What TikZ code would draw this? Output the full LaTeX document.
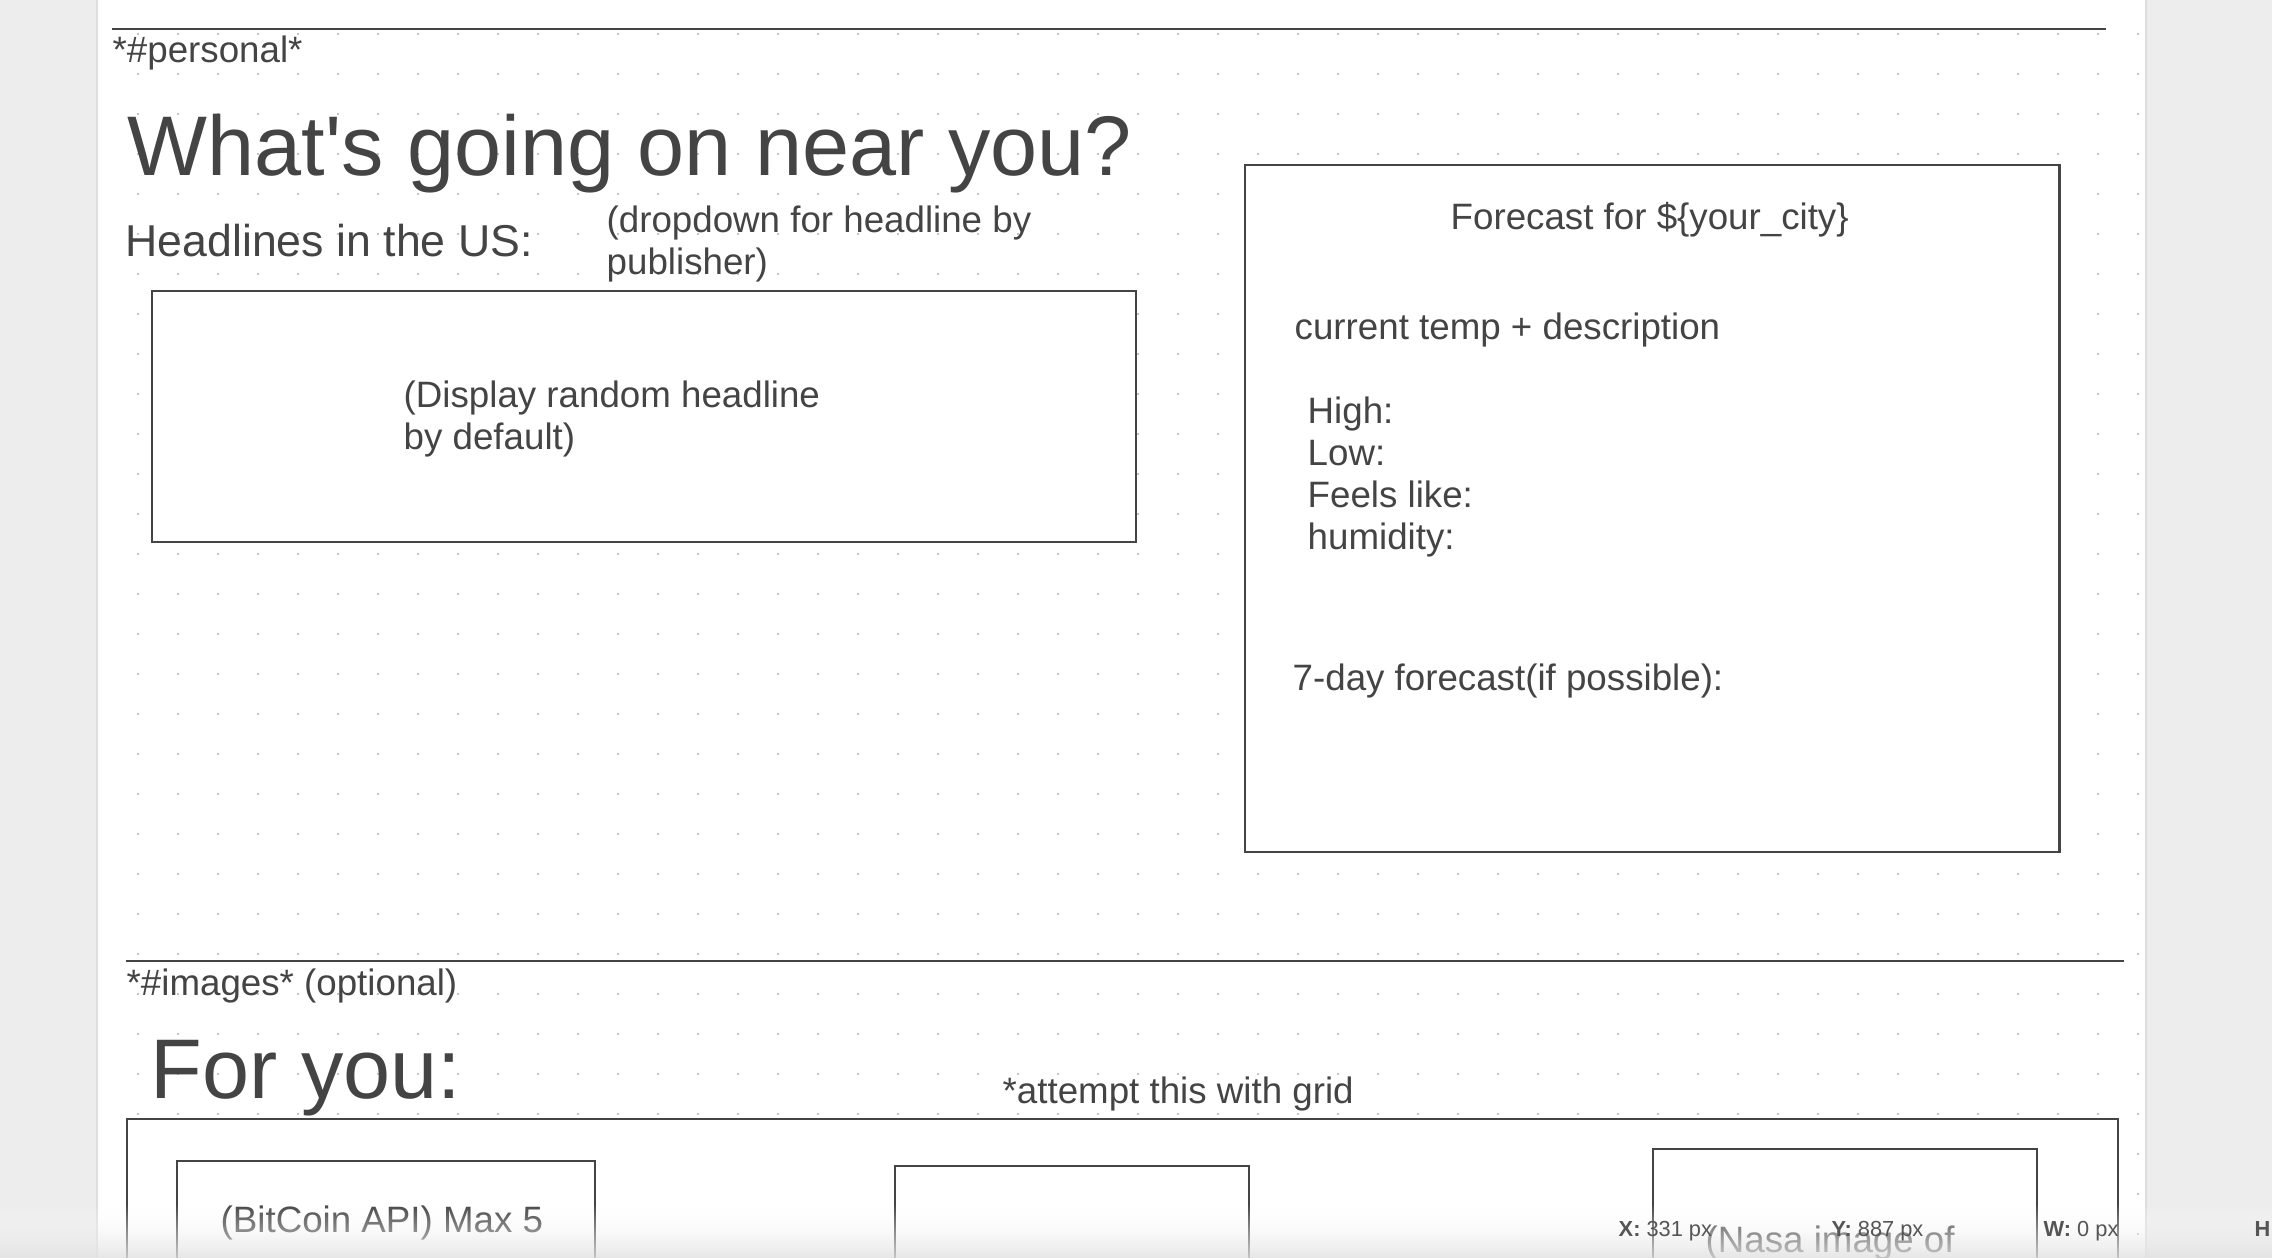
\documentclass[tikz,border=0pt]{standalone}
\usepackage{fontspec}
\setmainfont{Liberation Sans}
\usepackage{xcolor}
\usepackage{tikz}

\definecolor{ink}{HTML}{444444}
\definecolor{dotgray}{HTML}{C2C2C2}
\definecolor{margin}{HTML}{EDEDED}
\definecolor{marginline}{HTML}{DEDEDE}
\definecolor{barshade}{HTML}{E2E2E2}
\definecolor{statusgray}{HTML}{555555}

\begin{document}
\begin{tikzpicture}[x=0.01cm, y=-0.01cm,
    rule/.style={draw=ink, line width=0.6pt},
    panel/.style={draw=ink, line width=0.6pt, fill=white, inner sep=0pt, outer sep=0pt, anchor=north west},
    note/.style={text=ink, inner sep=0pt, anchor=base west, font=\fontsize{10.44}{12}\selectfont},
    subhead/.style={note, font=\fontsize{12.69}{15}\selectfont},
    bighead/.style={note, font=\fontsize{24.07}{28}\selectfont},
    status/.style={text=statusgray, inner sep=0pt, anchor=base west, font=\fontsize{6.2}{7}\selectfont}]
    \useasboundingbox (0,0) rectangle (2272,1258);
    \clip (0,0) rectangle (2272,1258);
    % Draw page and side margins
    \fill[white] (0,0) rectangle (2272,1258);
    \fill[margin] (0,0) rectangle (97,1258);
    \fill[margin] (2146,0) rectangle (2272,1258);
    \draw[marginline, line width=0.5pt] (97,0) -- (97,1258);
    \draw[marginline, line width=0.5pt] (2146,0) -- (2146,1258);
    % Draw dot grid
    \foreach \i in {0,...,50}
        \foreach \j in {0,...,30}
            \fill[dotgray] ({137+40*\i},{33+40*\j}) rectangle +(2,2);

    % Draw personal section
    \draw[rule] (112,29) -- (2106,29);
    \node[note] (personal) at (112,63) {*\#personal*};
    \node[bighead] (nearyou) at (127,176) {What\textquotesingle s going on near you?};
    \node[subhead] (headlines) at (125,257) {Headlines in the US:};
    \node[note] (dropA) at (606,233) {(dropdown for headline by};
    \node[note] (dropB) at (606,275) {publisher)};
    \node[panel, minimum width=9.83cm, minimum height=2.51cm] (headbox) at (152,291) {};
    \node[note] (displayA) at (403,408) {(Display random headline};
    \node[note] (displayB) at (403,450) {by default)};

    % Draw forecast panel
    \node[panel, minimum width=8.14cm, minimum height=6.87cm] (forecastbox) at (1245,165) {};
    \node[note] (forecast) at (1450,230) {Forecast for \$\{your\_city\}};
    \node[note] (current) at (1294,340) {current temp + description};
    \node[note] (high) at (1307,424) {High:};
    \node[note] (low) at (1307,466) {Low:};
    \node[note] (feels) at (1307,508) {Feels like:};
    \node[note] (humidity) at (1307,550) {humidity:};
    \node[note] (sevenday) at (1292,691) {7-day forecast(if possible):};

    % Draw images section
    \draw[rule] (126,961) -- (2124,961);
    \node[note] (images) at (126,995) {*\#images* (optional)};
    \node[bighead] (foryou) at (150,1098) {For you:};
    \node[note] (attempt) at (1002,1103) {*attempt this with grid};
    \node[panel, minimum width=19.9cm, minimum height=2cm] (foryoubox) at (127,1119) {};
    \node[panel, minimum width=4.18cm, minimum height=1.5cm] (coinbox) at (177,1161) {};
    \node[panel, minimum width=3.54cm, minimum height=1.5cm] (midbox) at (895,1166) {};
    \node[panel, minimum width=3.84cm, minimum height=1.5cm] (nasabox) at (1653,1149) {};
    \node[note] (coin) at (220,1232) {(BitCoin API) Max 5};
    \node[note] (nasa) at (1705,1252) {(Nasa image of};

    % Draw status bar (fading strips)
    \foreach \k [evaluate=\k as \p using 4*\k, evaluate=\k as \o using 0.05+0.03*\k] in {0,...,25}
        \fill[fill=barshade!\p!white, fill opacity=\o] (0,{1206+2*\k}) rectangle +(2272,2);
    \node[status] (posx) at (1618,1236) {\textbf{X:} 331 px};
    \node[status] (posy) at (1831,1236) {\textbf{Y:} 887 px};
    \node[status] (sizew) at (2043,1236) {\textbf{W:} 0 px};
    \node[status] (sizeh) at (2254,1236) {\textbf{H:}};
\end{tikzpicture}
\end{document}
